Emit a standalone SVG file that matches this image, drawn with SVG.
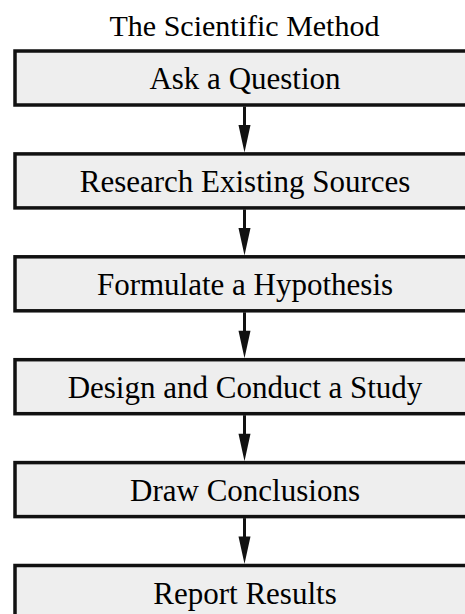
<svg xmlns="http://www.w3.org/2000/svg" width="465" height="614" viewBox="0 0 465 614">
<style>
.box{fill:#eeeeee;stroke:#111111;stroke-width:3.5}
.lbl{font-family:"Liberation Serif","Times New Roman",serif;font-size:31px;fill:#000;text-anchor:middle}
.ttl{font-family:"Liberation Serif","Times New Roman",serif;font-size:30px;fill:#000;text-anchor:middle}
.conn{stroke:#111111;stroke-width:3;fill:none}
.head{fill:#111111}
</style>
<rect width="465" height="614" fill="#ffffff"/>
<text class="ttl" x="244.5" y="36">The Scientific Method</text>
<g id="node1"><rect class="box" x="15" y="51" width="460" height="54"/><text class="lbl" x="245" y="89">Ask a Question</text></g>
<g id="node2"><rect class="box" x="15" y="153.9" width="460" height="54"/><text class="lbl" x="245" y="191.9">Research Existing Sources</text></g>
<g id="node3"><rect class="box" x="15" y="256.8" width="460" height="54"/><text class="lbl" x="245" y="295.3">Formulate a Hypothesis</text></g>
<g id="node4"><rect class="box" x="15" y="359.7" width="460" height="54"/><text class="lbl" x="245" y="397.5">Design and Conduct a Study</text></g>
<g id="node5"><rect class="box" x="15" y="462.6" width="460" height="54"/><text class="lbl" x="245" y="500.6">Draw Conclusions</text></g>
<g id="node6"><rect class="box" x="15" y="565.5" width="460" height="54"/><text class="lbl" x="245" y="603.5">Report Results</text></g>
<g id="connectors">
<line class="conn" x1="244.5" y1="106.5" x2="244.5" y2="128"/>
<polygon class="head" points="238.5,125 250.5,125 244.5,152.5"/>
<line class="conn" x1="244.5" y1="209.4" x2="244.5" y2="231"/>
<polygon class="head" points="238.5,227.9 250.5,227.9 244.5,255.4"/>
<line class="conn" x1="244.5" y1="312.3" x2="244.5" y2="334"/>
<polygon class="head" points="238.5,330.8 250.5,330.8 244.5,358.3"/>
<line class="conn" x1="244.5" y1="415.2" x2="244.5" y2="437"/>
<polygon class="head" points="238.5,433.7 250.5,433.7 244.5,461.2"/>
<line class="conn" x1="244.5" y1="518.1" x2="244.5" y2="540"/>
<polygon class="head" points="238.5,536.6 250.5,536.6 244.5,564.1"/>
</g>
</svg>
